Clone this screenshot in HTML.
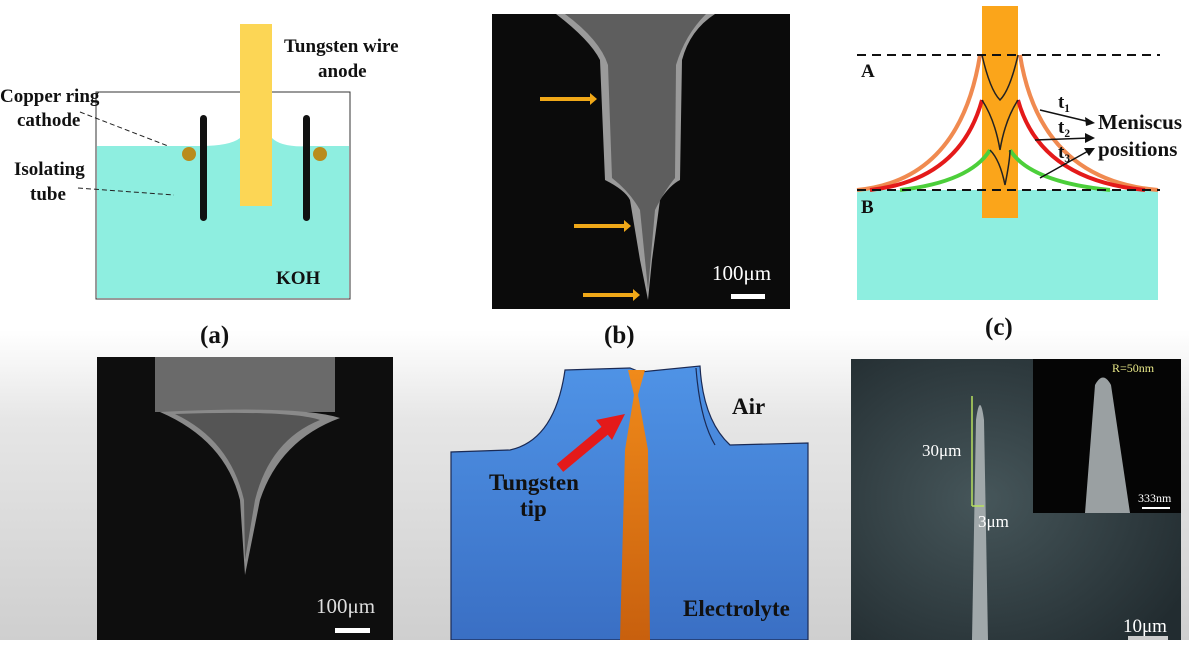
<!DOCTYPE html>
<html><head><style>
body{margin:0;width:1189px;height:640px;overflow:hidden;background:linear-gradient(#fff 0,#fff 330px,#e6e6e6 420px,#cfcfcf 640px);font-family:"Liberation Serif",serif}
</style></head><body>
<svg width="1189" height="640" xmlns="http://www.w3.org/2000/svg" font-family="Liberation Serif, serif" font-weight="bold">
<defs>
<linearGradient id="bl" x1="0" y1="0" x2="0" y2="1"><stop offset="0" stop-color="#4f93e6"/><stop offset="1" stop-color="#3a6fc4"/></linearGradient>
<radialGradient id="sem" cx="0.4" cy="0.5" r="0.7"><stop offset="0" stop-color="#46565a"/><stop offset="1" stop-color="#222c30"/></radialGradient>
<linearGradient id="or" x1="0" y1="0" x2="0" y2="1"><stop offset="0" stop-color="#f08a1a"/><stop offset="1" stop-color="#c8600e"/></linearGradient>
</defs>
<!-- (a) -->
<rect x="96" y="92" width="254" height="207" fill="#fff" stroke="#333" stroke-width="1"/>
<path d="M97 146 H200 Q230 146 240 138 V206 H272 V138 Q282 148 310 146 H349 V298 H97Z" fill="#8eeee0"/>
<rect x="240" y="24" width="32" height="182" fill="#fcd655"/>
<rect x="200" y="115" width="7" height="106" rx="3.5" fill="#111"/>
<rect x="303" y="115" width="7" height="106" rx="3.5" fill="#111"/>
<circle cx="189" cy="154" r="7" fill="#b98c1c"/>
<circle cx="320" cy="154" r="7" fill="#b98c1c"/>
<path d="M80 112 L168 146 M78 188 L174 195" stroke="#222" stroke-dasharray="5,3" fill="none"/>
<g font-size="19" fill="#111">
<text x="284" y="52">Tungsten wire</text><text x="318" y="77">anode</text>
<text x="0" y="102">Copper ring</text><text x="17" y="126">cathode</text>
<text x="14" y="175">Isolating</text><text x="30" y="200">tube</text>
<text x="276" y="284">KOH</text>
<text x="200" y="343" font-size="25">(a)</text>
<text x="604" y="343" font-size="25">(b)</text>
<text x="985" y="335" font-size="25">(c)</text>
</g>
<!-- (b) -->
<rect x="492" y="14" width="298" height="295" fill="#0b0b0b"/>
<path d="M556 14 Q590 40 600 60 L605 180 Q625 190 630 200 L640 260 L648 300 L652 260 L660 200 Q670 185 680 180 L682 60 Q690 30 715 14Z" fill="#9a9a9a"/>
<path d="M565 14 Q600 40 608 65 L612 178 Q630 192 640 210 L648 290 L655 210 Q665 190 675 178 L676 65 Q685 35 706 14Z" fill="#5e5e5e"/>
<g fill="#f0a818"><rect x="540" y="97" width="50" height="4"/><polygon points="590,93 597,99 590,105"/><rect x="574" y="224" width="50" height="4"/><polygon points="624,220 631,226 624,232"/><rect x="583" y="293" width="50" height="4"/><polygon points="633,289 640,295 633,301"/></g>
<text x="712" y="280" font-size="21" fill="#fff" font-weight="normal">100μm</text>
<rect x="731" y="294" width="34" height="5" fill="#fff"/>
<!-- (c) -->
<rect x="857" y="190" width="301" height="110" fill="#8eeee0"/>
<rect x="982" y="6" width="36" height="212" fill="#fba51a"/>
<path d="M857 190 Q960 180 980 55 M1020 55 Q1040 180 1158 190" stroke="#f08a50" stroke-width="4" fill="none"/>
<path d="M870 190 Q960 180 982 100 M1018 100 Q1040 180 1145 190" stroke="#e41a1a" stroke-width="4" fill="none"/>
<path d="M900 190 Q970 182 990 150 M1010 150 Q1030 182 1110 190" stroke="#4ccf3a" stroke-width="4" fill="none"/>
<path d="M982 55 Q990 90 1000 100 Q1010 90 1018 55 M990 150 Q1000 160 1005 185 Q1010 160 1010 150 M982 100 Q995 120 1000 150 M1018 100 Q1005 120 1000 150" stroke="#222" stroke-width="1.5" fill="none"/>
<path d="M857 55 H1160 M857 190 H1160" stroke="#111" stroke-width="2" stroke-dasharray="9,6"/>
<path d="M1040 110 L1090 122 M1035 140 L1090 138 M1040 178 L1090 150" stroke="#111" stroke-width="1.5"/>
<polygon points="1095,123 1085,117 1086,126" fill="#111"/><polygon points="1095,138 1085,133 1085,143" fill="#111"/><polygon points="1095,148 1084,148 1089,156" fill="#111"/>
<g font-size="19" fill="#111"><text x="861" y="77">A</text><text x="861" y="213">B</text>
<text x="1058" y="108">t₁</text><text x="1058" y="133">t₂</text><text x="1058" y="158">t₃</text>
<g font-size="21"><text x="1098" y="129">Meniscus</text><text x="1098" y="156">positions</text></g></g>
<!-- bottom left SEM -->
<rect x="97" y="357" width="296" height="283" fill="#0e0e0e"/>
<rect x="155" y="357" width="180" height="55" fill="#6a6a6a"/>
<path d="M160 412 Q300 405 340 418 Q280 440 260 500 L245 575 L240 500 Q225 440 160 412Z" fill="#8a8a8a"/>
<path d="M175 414 Q290 410 320 420 Q270 440 255 500 L245 560 L244 500 Q230 440 175 414Z" fill="#555"/>
<text x="316" y="613" font-size="21" fill="#ddd" font-weight="normal">100μm</text>
<rect x="335" y="628" width="35" height="5" fill="#fff"/>
<!-- bottom middle -->
<path d="M565 370 L630 368 L640 372 L700 366 Q703 420 730 445 L808 443 V640 H451 V452 L510 450 Q555 440 565 370Z" fill="url(#bl)" stroke="#1a2a55" stroke-width="1.2"/>
<path d="M696 368 Q700 420 715 445" stroke="#1a2a55" stroke-width="1.2" fill="none"/>
<path d="M628 370 L645 370 L638 395 L648 450 L650 640 H620 L625 450 L634 395Z" fill="url(#or)"/>
<path d="M560 468 L608 428" stroke="#e41a1a" stroke-width="10"/>
<polygon points="625,414 596,420 612,440" fill="#e41a1a"/>
<g font-size="23" fill="#111"><text x="732" y="414">Air</text><text x="489" y="490">Tungsten</text><text x="520" y="516">tip</text><text x="683" y="616">Electrolyte</text></g>
<!-- bottom right -->
<rect x="851" y="359" width="330" height="281" fill="url(#sem)"/>
<path d="M972 640 L976 420 Q980 390 984 420 L988 640Z" fill="#a0a8aa"/>
<rect x="1033" y="359" width="148" height="154" fill="#050505"/>
<path d="M1085 513 L1095 385 Q1103 370 1111 385 L1130 513Z" fill="#9aa0a2"/>
<path d="M972 396 V506 M972 506 H984" stroke="#b8e060" stroke-width="1.5"/>
<text x="922" y="456" font-size="17" fill="#fff" font-weight="normal">30μm</text>
<text x="978" y="527" font-size="17" fill="#fff" font-weight="normal">3μm</text>
<text x="1112" y="372" font-size="12" fill="#e8e888" font-weight="normal">R=50nm</text>
<text x="1138" y="502" font-size="12" fill="#fff" font-weight="normal">333nm</text>
<rect x="1142" y="507" width="28" height="2" fill="#fff"/>
<text x="1123" y="632" font-size="19" fill="#fff" font-weight="normal">10μm</text>
<rect x="1128" y="636" width="40" height="4" fill="#ccc"/>
</svg>
</body></html>
